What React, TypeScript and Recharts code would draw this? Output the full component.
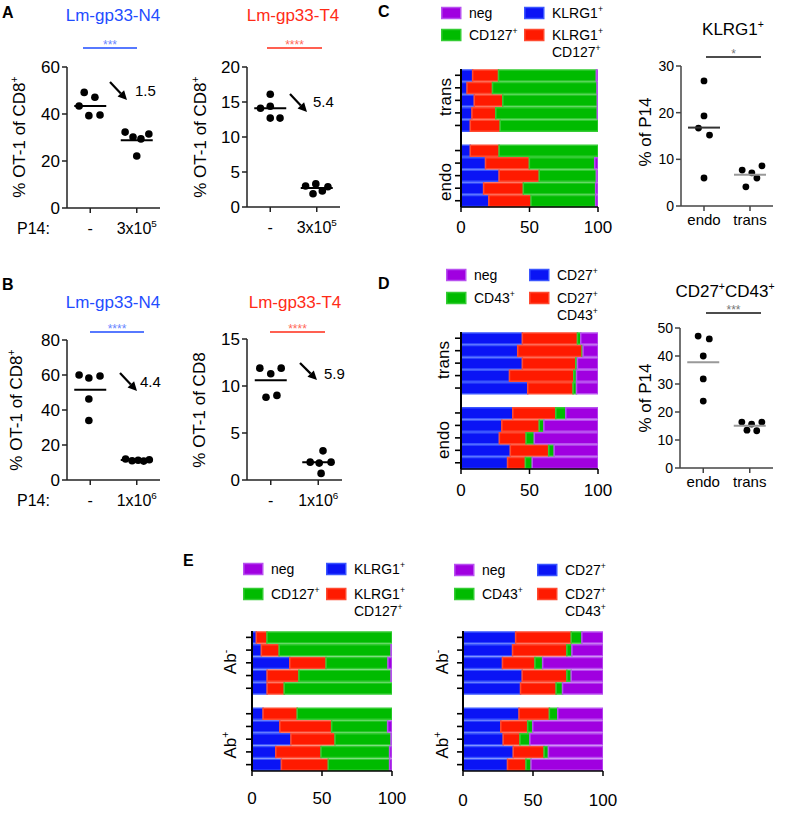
import React from 'react';
import { ComposedChart, Scatter, XAxis, YAxis, BarChart, Bar } from 'recharts';

const FONT = '"Liberation Sans", Arial, Helvetica, sans-serif';
const BLUE_T = '#1f4dff';
const RED_T = '#ff2b17';

// ---------- Panel A / B dot plots ----------
const p14LabelsA = ['-', '3x10^5'];
const p14LabelsB = ['-', '1x10^6'];

const aN4Ctrl = [49.2, 47.1, 43.4, 39.3, 39.6];
const aN4Ctrl_jit = [-0.13, 0.1, -0.24, -0.03, 0.21];
const aN4P14 = [32.3, 30.2, 29.4, 31.5, 22.1];
const aN4P14_jit = [-0.25, -0.08, 0.09, 0.26, 0.0];
const aN4Means = [43.4, 28.8];

const aT4Ctrl = [16.1, 14.1, 14.4, 12.7, 12.7];
const aT4Ctrl_jit = [0.0, -0.21, 0.0, 0.0, 0.21];
const aT4P14 = [3.0, 3.3, 2.9, 1.9, 2.3];
const aT4P14_jit = [-0.24, -0.02, 0.24, -0.08, 0.12];
const aT4Means = [14.1, 2.7];

const bN4Ctrl = [60.0, 58.3, 59.4, 46.3, 34.0];
const bN4Ctrl_jit = [-0.24, -0.03, 0.21, -0.03, -0.03];
const bN4P14 = [12.0, 11.0, 11.3, 10.8, 11.6];
const bN4P14_jit = [-0.24, -0.1, 0.03, 0.15, 0.27];
const bN4Means = [51.6, 11.5];

const bT4Ctrl = [11.9, 11.3, 11.9, 8.8, 9.0];
const bT4Ctrl_jit = [-0.23, 0.0, 0.22, -0.1, 0.13];
const bT4P14 = [3.1, 1.9, 1.8, 1.9, 0.7];
const bT4P14_jit = [0.1, -0.17, 0.02, 0.27, 0.06];
const bT4Means = [10.6, 1.9];

// ---------- Panel C / D right dot plots ----------
const groupLabelsCD = ['endo', 'trans'];
const cKlrgEndo = [26.8, 19.3, 16.7, 15.2, 6.0];
const cKlrgEndo_jit = [0.0, 0.0, -0.12, 0.12, 0.0];
const cKlrgTrans = [7.7, 7.1, 8.6, 6.0, 4.1];
const cKlrgTrans_jit = [-0.17, 0.04, 0.26, 0.15, -0.09];
const cKlrgMeans = [16.8, 6.7];

const dCdEndo = [47.1, 46.1, 40.0, 31.8, 23.9];
const dCdEndo_jit = [-0.11, 0.13, 0.0, 0.0, 0.0];
const dCdTrans = [16.4, 15.7, 16.4, 13.5, 13.3];
const dCdTrans_jit = [-0.17, 0.04, 0.26, -0.06, 0.15];
const dCdMeans = [37.8, 15.1];

// ---------- Stacked bars ----------
const cdRows = ['t1', 't2', 't3', 't4', 't5', 'gap', 'e1', 'e2', 'e3', 'e4', 'e5'];
const cBlue = [8.5, 4.4, 9.7, 8.0, 6.8, 0, 6.8, 17.9, 27.8, 16.5, 20.3];
const cRed = [18.9, 18.6, 20.8, 17.4, 21.8, 0, 21.0, 32.0, 29.3, 29.0, 30.8];
const cGreen = [71.4, 76.3, 69.0, 74.1, 71.4, 0, 72.2, 47.7, 41.7, 52.8, 47.2];
const cPurple = [1.2, 0.7, 0.5, 0.5, 0, 0, 0, 2.4, 1.2, 1.7, 1.7];

const dBlue = [44.8, 41.4, 44.8, 35.4, 48.7, 0, 37.8, 29.8, 28.0, 36.0, 34.0];
const dRed = [40.2, 47.0, 39.0, 46.9, 33.1, 0, 31.4, 27.3, 19.5, 28.0, 13.0];
const dGreen = [2.4, 0.7, 1.2, 2.0, 2.5, 0, 7.3, 3.4, 6.0, 4.0, 5.0];
const dPurple = [12.6, 10.9, 15.0, 15.7, 15.7, 0, 23.5, 39.5, 46.5, 32.0, 48.0];

const eRows = ['m1', 'm2', 'm3', 'm4', 'm5', 'gap', 'p1', 'p2', 'p3', 'p4', 'p5'];
const eLBlue = [3.1, 6.7, 27.0, 10.8, 10.8, 0, 7.9, 19.9, 27.8, 17.0, 21.0];
const eLRed = [7.6, 12.7, 25.9, 22.7, 12.2, 0, 24.4, 37.0, 31.5, 32.3, 33.5];
const eLGreen = [89.3, 79.9, 44.2, 65.8, 77.0, 0, 67.7, 40.0, 40.0, 49.0, 43.8];
const eLPurple = [0, 0.7, 2.9, 0.7, 0, 0, 0, 3.1, 0.7, 1.7, 1.7];

const eRBlue = [37.6, 35.4, 28.2, 42.3, 41.1, 0, 40.0, 27.0, 28.7, 35.9, 31.8];
const eRRed = [39.7, 38.8, 23.2, 31.9, 25.4, 0, 21.7, 19.2, 12.0, 22.0, 13.2];
const eRGreen = [7.6, 3.6, 5.5, 3.1, 4.6, 0, 6.0, 3.6, 7.1, 3.1, 3.6];
const eRPurple = [15.1, 22.2, 43.1, 22.7, 28.9, 0, 32.3, 50.2, 52.2, 39.0, 51.4];

const pctTicks = [0, 50, 100];

const COL = {
  blue: { fill: '#0a14f5', stroke: '#3a55ff' },
  red: { fill: '#ff1a00', stroke: '#ff4a30' },
  green: { fill: '#00bb00', stroke: '#33cc33' },
  purple: { fill: '#a000e0', stroke: '#b850f0' },
};

function Rich({ x, y, text, size, anchor = 'start', fill = '#000', rotate = false, weight = 'normal', supScale = 0.62 }: any) {
  const parts = text.split(/(\^.)/).filter((s: string) => s !== '');
  const shift = size * 0.42;
  let raised = false;
  const spans = parts.map((p: string, i: number) => {
    if (p.length === 2 && p[0] === '^') {
      const dy = raised ? 0 : -shift;
      raised = true;
      return (
        <tspan key={i} dy={dy} fontSize={size * supScale}>
          {p[1]}
        </tspan>
      );
    }
    const dy = raised ? shift : 0;
    raised = false;
    return (
      <tspan key={i} dy={dy}>
        {p}
      </tspan>
    );
  });
  return (
    <text
      x={x}
      y={y}
      fontSize={size}
      fill={fill}
      fontFamily={FONT}
      fontWeight={weight}
      textAnchor={anchor}
      transform={rotate ? `rotate(-90 ${x} ${y})` : undefined}
    >
      {spans}
    </text>
  );
}

const CatTick = (props: any) => {
  const { x, y, payload, labels, fontSize, centerDy } = props;
  const label = labels[Math.round(payload.value) - 1] ?? '';
  return <Rich x={x} y={y + centerDy + fontSize * 0.35} text={label} size={fontSize} anchor="middle" />;
};

const NumTick = (props: any) => {
  const { x, y, payload, fontSize, centerDy } = props;
  return (
    <text x={x} y={y + centerDy + fontSize * 0.35} fontSize={fontSize} fontFamily={FONT} textAnchor="middle" fill="#000">
      {payload.value}
    </text>
  );
};

const RowTick = (props: any) => {
  const { x, y, payload } = props;
  if (String(payload.value).startsWith('gap')) return <g />;
  return <line x1={x - 6} x2={x} y1={y} y2={y} stroke="#000" strokeWidth={1.6} />;
};

function DotPlot({ left, top, w, h, yMax, yTicks, groups, xLabels, yTickSize, xTickSize, xCenterDy, axisColor, dotR, meanHalf }: any) {
  const padL = 50, padT = 8, padR = 8, padB = 40;
  const points = groups.flatMap((g: any, gi: number) => g.values.map((v: number, i: number) => ({ x: gi + 1 + g.jitter[i], y: v })));
  return (
    <div style={{ position: 'absolute', left: left - padL, top: top - padT }}>
      <ComposedChart width={padL + w + padR} height={padT + h + padB} margin={{ top: padT, right: padR, bottom: 0, left: 0 }}>
        <XAxis
          type="number"
          dataKey="x"
          domain={[0.5, 2.5]}
          ticks={[1, 2]}
          interval={0}
          height={padB}
          axisLine={{ stroke: axisColor, strokeWidth: 1.5 }}
          tickLine={{ stroke: axisColor, strokeWidth: 1.5 }}
          tickSize={5}
          tickMargin={0}
          tick={<CatTick labels={xLabels} fontSize={xTickSize} centerDy={xCenterDy} />}
        />
        <YAxis
          type="number"
          dataKey="y"
          domain={[0, yMax]}
          ticks={yTicks}
          interval={0}
          width={padL}
          axisLine={{ stroke: axisColor, strokeWidth: 1.5 }}
          tickLine={{ stroke: axisColor, strokeWidth: 1.5 }}
          tickSize={5}
          tickMargin={2}
          tick={{ fontSize: yTickSize, fill: '#000', fontFamily: FONT }}
        />
        <Scatter
          data={points}
          isAnimationActive={false}
          shape={(p: any) => <circle cx={p.cx} cy={p.cy} r={dotR} fill="#000" />}
        />
        {groups.map((g: any, gi: number) => (
          <Scatter
            key={gi}
            data={[{ x: gi + 1, y: g.mean }]}
            isAnimationActive={false}
            shape={(p: any) => (
              <line x1={p.cx - meanHalf} x2={p.cx + meanHalf} y1={p.cy} y2={p.cy} stroke={g.meanColor} strokeWidth={2} />
            )}
          />
        ))}
      </ComposedChart>
    </div>
  );
}

function StackPlot({ left, top, w, h, rows, blue, red, green, purple, centerDy }: any) {
  const padL = 20, padT = 4, padR = 22, padB = 40;
  const data = rows.map((r: string, i: number) => ({ name: r, blue: blue[i], red: red[i], green: green[i], purple: purple[i] }));
  const keys = ['blue', 'red', 'green', 'purple'];
  return (
    <div style={{ position: 'absolute', left: left - padL, top: top - padT }}>
      <BarChart
        layout="vertical"
        width={padL + w + padR}
        height={padT + h + padB}
        data={data}
        margin={{ top: padT, right: padR, bottom: 0, left: 0 }}
        barSize={11}
        barCategoryGap={1}
      >
        <XAxis
          type="number"
          domain={[0, 100]}
          ticks={pctTicks}
          interval={0}
          allowDataOverflow
          height={padB}
          axisLine={{ stroke: '#000', strokeWidth: 1.5 }}
          tickLine={{ stroke: '#000', strokeWidth: 1.5 }}
          tickSize={5}
          tickMargin={0}
          tick={<NumTick fontSize={17} centerDy={centerDy} />}
        />
        <YAxis
          type="category"
          dataKey="name"
          width={padL}
          interval={0}
          tickLine={false}
          tickSize={0}
          tickMargin={0}
          axisLine={{ stroke: '#000', strokeWidth: 2 }}
          tick={<RowTick />}
        />
        {keys.map((k) => (
          <Bar
            key={k}
            dataKey={k}
            stackId="s"
            fill={(COL as any)[k].fill}
            stroke={(COL as any)[k].stroke}
            strokeWidth={1.5}
            isAnimationActive={false}
          />
        ))}
      </BarChart>
    </div>
  );
}

function Arrow({ x1, y1, x2, y2 }: any) {
  const ang = Math.atan2(y2 - y1, x2 - x1);
  const L = 9, W = 4.5;
  const bx = x2 - L * Math.cos(ang), by = y2 - L * Math.sin(ang);
  const px = -Math.sin(ang) * W, py = Math.cos(ang) * W;
  return (
    <g>
      <line x1={x1} y1={y1} x2={bx} y2={by} stroke="#000" strokeWidth={2.2} />
      <polygon points={`${x2},${y2} ${bx + px},${by + py} ${bx - px},${by - py}`} fill="#000" />
    </g>
  );
}

function Swatch({ x, y, c }: any) {
  return <rect x={x + 0.75} y={y - 5.5} width={19} height={11} fill={c.fill} stroke={c.stroke} strokeWidth={1.5} />;
}

function Legend4({ x, y, rowGap, labels }: any) {
  const fs = 14;
  const c2 = 83, t1 = 28, t2 = 111;
  return (
    <g>
      <Swatch x={x} y={y} c={COL.purple} />
      <Rich x={x + t1} y={y + fs * 0.35} text={labels[0]} size={fs} />
      <Swatch x={x + c2} y={y} c={COL.blue} />
      <Rich x={x + t2} y={y + fs * 0.35} text={labels[1]} size={fs} />
      <Swatch x={x} y={y + rowGap} c={COL.green} />
      <Rich x={x + t1} y={y + rowGap + fs * 0.35} text={labels[2]} size={fs} />
      <Swatch x={x + c2} y={y + rowGap} c={COL.red} />
      <Rich x={x + t2} y={y + rowGap + fs * 0.35} text={labels[3]} size={fs} />
      <Rich x={x + t2} y={y + rowGap + 17 + fs * 0.35} text={labels[4]} size={fs} />
    </g>
  );
}

function Sig({ x1, x2, y, color, starColor, stars }: any) {
  return (
    <g>
      <line x1={x1} x2={x2} y1={y} y2={y} stroke={color} strokeWidth={1.6} />
      <text x={(x1 + x2) / 2} y={y + 0.5} fontSize={12} fontFamily={FONT} textAnchor="middle" fill={starColor}>
        {stars}
      </text>
    </g>
  );
}

function Overlay() {
  const T = 17;
  const c = (v: number, fs: number) => v + fs * 0.35;
  return (
    <svg width={791} height={815} style={{ position: 'absolute', left: 0, top: 0, pointerEvents: 'none' }}>
      {/* Panel letters */}
      <Rich x={2} y={c(12, 16)} text="A" size={16} weight="bold" />
      <Rich x={2} y={c(284, 16)} text="B" size={16} weight="bold" />
      <Rich x={378} y={c(11, 16)} text="C" size={16} weight="bold" />
      <Rich x={378} y={c(283, 16)} text="D" size={16} weight="bold" />
      <Rich x={183} y={c(560, 16)} text="E" size={16} weight="bold" />

      {/* Titles */}
      <Rich x={113} y={c(15, T)} text="Lm-gp33-N4" size={T} anchor="middle" fill={BLUE_T} />
      <Rich x={293} y={c(15, T)} text="Lm-gp33-T4" size={T} anchor="middle" fill={RED_T} />
      <Rich x={113} y={c(302, T)} text="Lm-gp33-N4" size={T} anchor="middle" fill={BLUE_T} />
      <Rich x={295} y={c(302, T)} text="Lm-gp33-T4" size={T} anchor="middle" fill={RED_T} />
      <Rich x={733} y={c(29, T)} text="KLRG1^+" size={T} anchor="middle" />
      <Rich x={725} y={c(291, T)} text="CD27^+CD43^+" size={T} anchor="middle" />

      {/* Significance bars */}
      <Sig x1={83} x2={137} y={48} color={BLUE_T} starColor="#6a86ff" stars="***" />
      <Sig x1={267} x2={322} y={48} color={RED_T} starColor="#ff6a5a" stars="****" />
      <Sig x1={90} x2={144} y={332} color={BLUE_T} starColor="#6a86ff" stars="****" />
      <Sig x1={270} x2={325} y={332} color={RED_T} starColor="#ff6a5a" stars="****" />
      <Sig x1={706} x2={761} y={57} color="#111" starColor="#777" stars="*" />
      <Sig x1={706} x2={761} y={313} color="#111" starColor="#777" stars="***" />

      {/* Fold-change arrows */}
      <Arrow x1={110} y1={82} x2={127} y2={100} />
      <Rich x={135} y={c(91, 15)} text="1.5" size={15} />
      <Arrow x1={290} y1={94} x2={307} y2={112} />
      <Rich x={313} y={c(102, 15)} text="5.4" size={15} />
      <Arrow x1={120} y1={373} x2={137} y2={391} />
      <Rich x={140} y={c(382, 15)} text="4.4" size={15} />
      <Arrow x1={300} y1={363} x2={317} y2={380} />
      <Rich x={324} y={c(374, 15)} text="5.9" size={15} />

      {/* Y axis titles */}
      <Rich x={c(19, T)} y={137} text="% OT-1 of CD8^+" size={T} anchor="middle" rotate />
      <Rich x={c(200, T)} y={137} text="% OT-1 of CD8^+" size={T} anchor="middle" rotate />
      <Rich x={c(16, T)} y={410} text="% OT-1 of CD8^+" size={T} anchor="middle" rotate />
      <Rich x={c(199, T)} y={410} text="% OT-1 of CD8" size={T} anchor="middle" rotate />
      <Rich x={c(645, T)} y={132} text="% of P14" size={T} anchor="middle" rotate />
      <Rich x={c(645, T)} y={398} text="% of P14" size={T} anchor="middle" rotate />

      {/* P14 row labels */}
      <Rich x={17} y={c(228, 16)} text="P14:" size={16} />
      <Rich x={17} y={c(500, 16)} text="P14:" size={16} />

      {/* Group labels for bars */}
      <Rich x={c(445, T)} y={97} text="trans" size={T} anchor="middle" rotate />
      <Rich x={c(445, T)} y={182} text="endo" size={T} anchor="middle" rotate />
      <Rich x={c(443, T)} y={360} text="trans" size={T} anchor="middle" rotate />
      <Rich x={c(443, T)} y={440} text="endo" size={T} anchor="middle" rotate />
      <Rich x={c(230, T)} y={662} text="Ab^-" size={T} anchor="middle" rotate />
      <Rich x={c(230, T)} y={745} text="Ab^+" size={T} anchor="middle" rotate />
      <Rich x={c(442, T)} y={662} text="Ab^-" size={T} anchor="middle" rotate />
      <Rich x={c(442, T)} y={745} text="Ab^+" size={T} anchor="middle" rotate />

      {/* Legends */}
      <Legend4 x={441} y={13} rowGap={22} labels={['neg', 'KLRG1^+', 'CD127^+', 'KLRG1^+', 'CD127^+']} />
      <Legend4 x={446} y={275} rowGap={23} labels={['neg', 'CD27^+', 'CD43^+', 'CD27^+', 'CD43^+']} />
      <Legend4 x={243} y={569} rowGap={25} labels={['neg', 'KLRG1^+', 'CD127^+', 'KLRG1^+', 'CD127^+']} />
      <Legend4 x={454} y={570} rowGap={24} labels={['neg', 'CD27^+', 'CD43^+', 'CD27^+', 'CD43^+']} />
    </svg>
  );
}

export default function App() {
  const dotAB = { yTickSize: 17, xTickSize: 16, xCenterDy: 15, axisColor: '#222', dotR: 3.8, meanHalf: 16 };
  const dotCD = { yTickSize: 14, xTickSize: 15, xCenterDy: 9, axisColor: '#444', dotR: 3.4, meanHalf: 16 };
  return (
    <div style={{ position: 'absolute', left: 0, top: 0, width: 791, height: 815, background: '#fff', overflow: 'hidden' }}>
      <DotPlot
        {...dotAB}
        left={67} top={67} w={93} h={141} yMax={60} yTicks={[0, 20, 40, 60]} xLabels={p14LabelsA}
        groups={[
          { values: aN4Ctrl, jitter: aN4Ctrl_jit, mean: aN4Means[0], meanColor: '#000' },
          { values: aN4P14, jitter: aN4P14_jit, mean: aN4Means[1], meanColor: '#000' },
        ]}
      />
      <DotPlot
        {...dotAB}
        left={247} top={67} w={93} h={140} yMax={20} yTicks={[0, 5, 10, 15, 20]} xLabels={p14LabelsA}
        groups={[
          { values: aT4Ctrl, jitter: aT4Ctrl_jit, mean: aT4Means[0], meanColor: '#000' },
          { values: aT4P14, jitter: aT4P14_jit, mean: aT4Means[1], meanColor: '#000' },
        ]}
      />
      <DotPlot
        {...dotAB}
        left={67} top={340} w={93} h={140} yMax={80} yTicks={[0, 20, 40, 60, 80]} xLabels={p14LabelsB}
        groups={[
          { values: bN4Ctrl, jitter: bN4Ctrl_jit, mean: bN4Means[0], meanColor: '#000' },
          { values: bN4P14, jitter: bN4P14_jit, mean: bN4Means[1], meanColor: '#000' },
        ]}
      />
      <DotPlot
        {...dotAB}
        left={247} top={339} w={95} h={141} yMax={15} yTicks={[0, 5, 10, 15]} xLabels={p14LabelsB}
        groups={[
          { values: bT4Ctrl, jitter: bT4Ctrl_jit, mean: bT4Means[0], meanColor: '#000' },
          { values: bT4P14, jitter: bT4P14_jit, mean: bT4Means[1], meanColor: '#000' },
        ]}
      />
      <DotPlot
        {...dotCD}
        left={681} top={66} w={92} h={140} yMax={30} yTicks={[0, 10, 20, 30]} xLabels={groupLabelsCD}
        groups={[
          { values: cKlrgEndo, jitter: cKlrgEndo_jit, mean: cKlrgMeans[0], meanColor: '#333' },
          { values: cKlrgTrans, jitter: cKlrgTrans_jit, mean: cKlrgMeans[1], meanColor: '#999' },
        ]}
      />
      <DotPlot
        {...dotCD}
        left={680} top={328} w={93} h={140} yMax={50} yTicks={[0, 10, 20, 30, 40, 50]} xLabels={groupLabelsCD}
        groups={[
          { values: dCdEndo, jitter: dCdEndo_jit, mean: dCdMeans[0], meanColor: '#999' },
          { values: dCdTrans, jitter: dCdTrans_jit, mean: dCdMeans[1], meanColor: '#999' },
        ]}
      />
      <StackPlot left={461} top={69} w={137} h={138} rows={cdRows} blue={cBlue} red={cRed} green={cGreen} purple={cPurple} centerDy={15} />
      <StackPlot left={461} top={332} w={137} h={137} rows={cdRows} blue={dBlue} red={dRed} green={dGreen} purple={dPurple} centerDy={16} />
      <StackPlot left={252} top={631} w={140} h={140} rows={eRows} blue={eLBlue} red={eLRed} green={eLGreen} purple={eLPurple} centerDy={22} />
      <StackPlot left={463} top={631} w={140} h={140} rows={eRows} blue={eRBlue} red={eRRed} green={eRGreen} purple={eRPurple} centerDy={24} />
      <Overlay />
    </div>
  );
}
